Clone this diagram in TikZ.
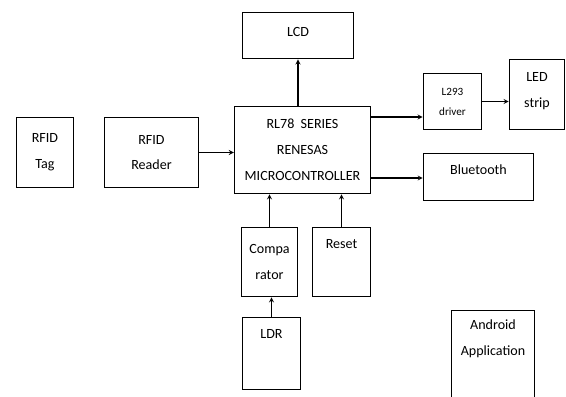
\documentclass[tikz,border=0pt]{standalone}
\usepackage{fontspec}
\setmainfont{Carlito}

\tikzset{
  blk/.style={draw, line width=0.9pt, inner sep=0pt, align=center,
    font=\fontsize{12}{22}\selectfont},
  toptext/.style={anchor=north, inner sep=0pt, align=center,
    font=\fontsize{12}{22}\selectfont},
}

\begin{document}
\begin{tikzpicture}[>=stealth, x=0.03cm, y=-0.03cm, line width=0.9pt]

  \useasboundingbox (0,0) rectangle (566,396);
  \clip (0,0) rectangle (566,396);

  %=====================================================================
  % left: tag and reader
  %=====================================================================
  \node[blk, minimum width=58*0.85pt, minimum height=71*0.85pt] (tag) at (45,152.5) {RFID\\Tag};
  \node[blk, minimum width=95*0.85pt, minimum height=71*0.85pt] (reader) at (151.5,152.5) {RFID\\Reader};

  %=====================================================================
  % middle: controller, display, comparator, reset, ldr
  %=====================================================================
  \node[blk, minimum width=137*0.85pt, minimum height=88*0.85pt] (mcu) at (302.5,150)
    {RL78\ \ SERIES\\RENESAS\\MICROCONTROLLER};
  \node[blk, minimum width=112*0.85pt, minimum height=47*0.85pt, text depth=6pt] (lcd) at (298,35.5) {LCD};
  \node[blk, minimum width=57*0.85pt, minimum height=70*0.85pt] (comp) at (269.5,262) {Compa\\rator};
  \node[blk, minimum width=59*0.85pt, minimum height=70*0.85pt] (reset) at (341.5,262) {};
  \node[toptext] (resettxt) at (341.5,239) {Reset};
  \node[blk, minimum width=59*0.85pt, minimum height=73*0.85pt] (ldr) at (271.5,353.5) {};
  \node[toptext] (ldrtxt) at (271.5,329) {LDR};

  %=====================================================================
  % right: driver, strip, bluetooth, app
  %=====================================================================
  \node[blk, minimum width=59*0.85pt, minimum height=57*0.85pt,
    font=\fontsize{9.5}{17}\selectfont] (drv) at (452.5,101.5) {L293\\driver};
  \node[blk, minimum width=56*0.85pt, minimum height=71*0.85pt, text depth=8pt] (led) at (537,94.5) {LED\\strip};
  \node[blk, minimum width=111*0.85pt, minimum height=48*0.85pt] (bt) at (478.5,177) {};
  \node[toptext] (bttxt) at (478.5,164) {Bluetooth};
  \node[blk, minimum width=84*0.85pt, minimum height=90*0.85pt] (app) at (493,355) {};
  \node[toptext] (apptxt) at (493,319) {Android\\Application};

  % ports on the controller
  \coordinate (mcuA) at (371,117);
  \coordinate (mcuB) at (371,178);

  %=====================================================================
  % arrows
  %=====================================================================
  \draw[->] (reader.east) -- (reader.east -| mcu.west);
  \draw[->] (lcd.south |- mcu.north) -- (lcd.south);
  \draw[->] (mcuA) -- (mcuA -| drv.west);
  \draw[->] (drv.east) -- (drv.east -| led.west);
  \draw[->] (mcuB) -- (mcuB -| bt.west);
  \draw[->] (comp.north) -- (comp.north |- mcu.south);
  \draw[->] (reset.north) -- (reset.north |- mcu.south);
  \draw[->] (ldr.north) -- (ldr.north |- comp.south);

\end{tikzpicture}
\end{document}
